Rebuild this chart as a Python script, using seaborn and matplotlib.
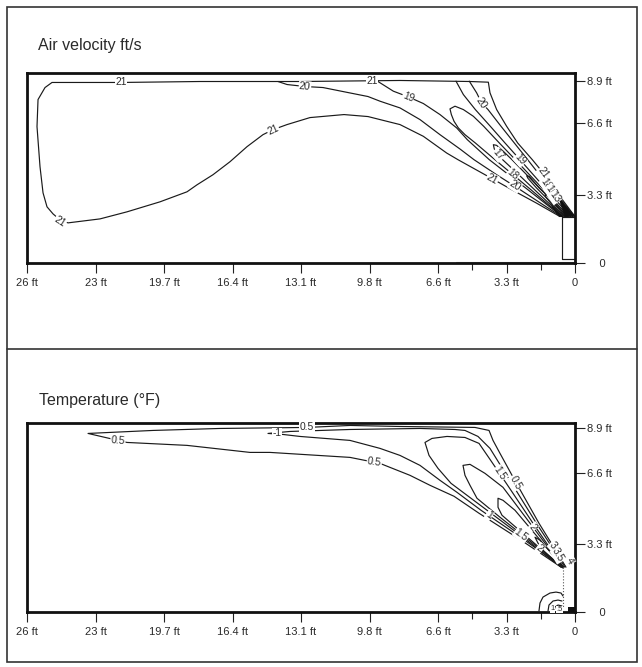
import matplotlib
matplotlib.use("Agg")
import matplotlib.pyplot as plt
from matplotlib import font_manager
from matplotlib.patches import Rectangle, Polygon
from matplotlib.lines import Line2D
import seaborn as sns
import pandas as pd

# ---------------- axis data (metres; labels in ft as in the figure) ----------------
X_TICKS_M = [8, 7, 6, 5, 4, 3, 2, 1, 0]
X_TICK_LABELS = ["26 ft", "23 ft", "19.7 ft", "16.4 ft", "13.1 ft", "9.8 ft", "6.6 ft", "3.3 ft", "0"]
X_MINOR_M = [1.5, 0.5]
VEL_Y_TICKS = [0, 0.99, 2.04, 2.66]
TMP_Y_TICKS = [0, 1.00, 2.03, 2.70]
Y_TICK_LABELS = ["    0", "3.3 ft", "6.6 ft", "8.9 ft"]

# ---------------- Air velocity contours ----------------
VEL_21_X = [0, 0.292, 0.462, 0.623, 0.837, 0.998, 1.144, 1.241, 1.265, 1.533, 2.555, 4.015, 5.474, 6.628,
            7.635, 7.737, 7.839, 7.854, 7.810, 7.766, 7.708, 7.620, 7.518, 7.401, 6.934, 6.540, 6.058, 5.664,
            5.518, 5.285, 5.036, 4.788, 4.555, 4.409, 4.204, 3.869, 3.372, 3.022, 2.847, 2.555, 2.214, 1.873,
            1.708, 1.207, 0.920, 0.560, 0.219]
VEL_21_Y = [0.677, 1.067, 1.311, 1.506, 1.750, 1.993, 2.237, 2.481, 2.636, 2.646, 2.661, 2.646, 2.646, 2.632,
            2.632, 2.558, 2.383, 1.988, 1.404, 1.023, 0.819, 0.716, 0.629, 0.585, 0.643, 0.746, 0.892, 1.038,
            1.140, 1.287, 1.477, 1.696, 1.871, 1.944, 2.018, 2.120, 2.164, 2.135, 2.091, 2.018, 1.847, 1.603,
            1.506, 1.228, 1.067, 0.872, 0.677]
VEL_20A_X = [4.336, 4.204, 3.942, 3.679, 3.314, 3.022, 2.847, 2.555, 2.263, 1.971, 1.679, 1.474, 1.144, 0.798, 0.487, 0.200]
VEL_20A_Y = [2.646, 2.602, 2.573, 2.558, 2.485, 2.427, 2.359, 2.261, 2.091, 1.871, 1.662, 1.506, 1.287, 1.067, 0.863, 0.677]
VEL_20B_X = [1.543, 1.436, 1.363, 1.270, 1.080, 0.886, 0.691, 0.345, 0.034]
VEL_20B_Y = [2.651, 2.481, 2.334, 2.237, 1.993, 1.750, 1.506, 1.067, 0.677]
VEL_19A_X = [2.876, 2.652, 2.433, 2.214, 1.971, 1.727, 1.572, 1.251, 0.686, 0.190]
VEL_19A_Y = [2.646, 2.505, 2.422, 2.325, 2.164, 1.969, 1.798, 1.506, 1.067, 0.677]
VEL_19B_X = [1.737, 1.630, 1.455, 1.236, 1.022, 0.803, 0.414, 0.063]
VEL_19B_Y = [2.651, 2.456, 2.237, 1.993, 1.750, 1.506, 1.067, 0.677]
VEL_18_X = [0.088, 0.457, 0.871, 1.105, 1.333, 1.484, 1.630, 1.752, 1.825, 1.805, 1.766, 1.703, 1.606, 1.455,
            1.168, 0.905, 0.642, 0.414, 0.180]
VEL_18_Y = [0.677, 1.067, 1.506, 1.750, 1.993, 2.139, 2.237, 2.286, 2.247, 2.164, 2.066, 1.969, 1.871, 1.750,
            1.506, 1.287, 1.067, 0.872, 0.677]
VEL_17_X = [0.107, 0.491, 0.920, 1.046, 1.144, 1.192, 1.178, 1.119, 1.056, 0.847, 0.589, 0.414, 0.170]
VEL_17_Y = [0.677, 1.067, 1.506, 1.628, 1.715, 1.725, 1.662, 1.579, 1.506, 1.311, 1.067, 0.902, 0.677]
VEL_16_X = [0.122, 0.316, 0.521, 0.667, 0.706, 0.686, 0.560, 0.341, 0.156]
VEL_16_Y = [0.677, 0.897, 1.092, 1.262, 1.272, 1.233, 1.092, 0.872, 0.677]
VEL_13_X = [0.136, 0.292, 0.414, 0.438, 0.423, 0.316, 0.146]
VEL_13_Y = [0.677, 0.848, 0.994, 0.994, 0.960, 0.824, 0.677]
VEL_DIFFUSER_X = [0, 0.190, 0.190, 0]
VEL_DIFFUSER_Y = [0.673, 0.673, 0.058, 0.058]
VEL_FLOOR_X = [1.74, 0]
VEL_FLOOR_Y = [0.015, 0.015]
VEL_WEDGES = [[(0.243, 0.970), (0.0, 0.677), (0.146, 0.677)],
              [(0.341, 0.824), (0.180, 0.677), (0.229, 0.677)]]
VEL_LABELS = [("21", 6.628, 2.632, 0), ("21", 2.964, 2.655, 0), ("21", 7.518, 0.605, -33),
              ("21", 4.409, 1.944, 25), ("20", 3.942, 2.573, -5), ("19", 2.433, 2.422, -22),
              ("20", 1.363, 2.334, -56), ("19", 0.803, 1.506, -48), ("17", 1.119, 1.579, -50),
              ("18", 0.905, 1.287, -40), ("21", 1.207, 1.228, -29), ("20", 0.876, 1.126, -33),
              ("21", 0.462, 1.311, -53), ("18", 0.423, 1.150, -55), ("16", 0.355, 1.053, -55),
              ("13", 0.297, 0.960, -55)]

# ---------------- Temperature contours ----------------
TMP_05_X = [0.131, 0.526, 0.883, 1.095, 1.197, 1.255, 1.460, 2.555, 3.285, 3.912, 5.182, 6.161, 7.109, 6.672,
            6.540, 5.664, 4.745, 4.453, 3.285, 2.847, 2.409, 2.117, 1.766, 1.401, 0.788, 0.204]
TMP_05_Y = [0.658, 1.301, 1.937, 2.325, 2.515, 2.661, 2.705, 2.719, 2.734, 2.705, 2.690, 2.661, 2.617, 2.515,
            2.485, 2.442, 2.339, 2.339, 2.266, 2.178, 2.003, 1.857, 1.696, 1.447, 1.053, 0.658]
TMP_1_X = [0.146, 0.555, 0.934, 1.241, 1.416, 1.606, 1.752, 2.263, 3.285, 4.161, 4.482, 4.263, 4.015, 3.285,
           2.847, 2.555, 2.263, 1.971, 1.723, 1.372, 0.774, 0.190]
TMP_1_Y = [0.658, 1.287, 1.901, 2.398, 2.573, 2.661, 2.675, 2.690, 2.675, 2.646, 2.617, 2.602, 2.573, 2.515,
           2.398, 2.295, 2.149, 1.930, 1.754, 1.491, 1.082, 0.658]
TMP_15_X = [0.175, 0.584, 0.993, 1.241, 1.401, 1.606, 1.869, 2.088, 2.190, 2.131, 2.000, 1.810, 1.460, 1.110, 0.759, 0.204]
TMP_15_Y = [0.658, 1.257, 1.871, 2.237, 2.471, 2.558, 2.573, 2.544, 2.485, 2.295, 2.105, 1.886, 1.623, 1.360, 1.096, 0.658]
TMP_2_X = [0.175, 0.613, 0.876, 1.051, 1.314, 1.533, 1.635, 1.606, 1.533, 1.431, 1.095, 0.745, 0.190]
TMP_2_Y = [0.658, 1.243, 1.594, 1.827, 2.032, 2.164, 2.149, 2.003, 1.857, 1.667, 1.389, 1.111, 0.658]
TMP_25_X = [0.175, 0.642, 0.876, 1.051, 1.124, 1.124, 1.066, 0.730, 0.190]
TMP_25_Y = [0.658, 1.213, 1.491, 1.637, 1.667, 1.535, 1.418, 1.126, 0.658]
TMP_3_X = [0.161, 0.409, 0.511, 0.584, 0.540, 0.453, 0.175]
TMP_3_Y = [0.658, 0.936, 1.053, 1.096, 1.009, 0.892, 0.643]
TMP_ARC_A_X = [0.526, 0.511, 0.467, 0.365, 0.277, 0.204, 0.175]
TMP_ARC_A_Y = [0.015, 0.132, 0.219, 0.278, 0.292, 0.278, 0.234]
TMP_ARC_B_X = [0.394, 0.380, 0.321, 0.248, 0.190]
TMP_ARC_B_Y = [0.015, 0.102, 0.161, 0.175, 0.161]
TMP_ARC_C_X = [0.307, 0.292, 0.248, 0.190]
TMP_ARC_C_Y = [0.015, 0.073, 0.102, 0.088]
TMP_DIFFUSER_X = [0.175, 0.175]
TMP_DIFFUSER_Y = [0.658, 0.073]
TMP_BLOCK = (0.0, 0.0, 0.10, 0.07)
TMP_LABELS = [("0.5", 3.912, 2.705, 0), ("-1", 4.350, 2.617, 0), ("0.5", 6.672, 2.515, -5),
              ("0.5", 2.930, 2.195, -8), ("1.5", 1.095, 2.032, -56), ("0.5", 0.861, 1.901, -61),
              ("1", 1.255, 1.418, -35), ("1.5", 0.788, 1.126, -37), ("2", 0.613, 1.243, -53),
              ("2", 0.511, 0.936, -38), ("3", 0.321, 0.980, -50), ("3.5", 0.248, 0.833, -60),
              ("4", 0.073, 0.746, -60)]
TMP_SMALL_LABELS = [("1", 0.330, 0.045, 0), (".5", 0.225, 0.035, 0)]

TITLE_TOP = "Air velocity ft/s"
TITLE_BOT = "Temperature (\u00b0F)"

# ---------------- styling ----------------
sns.set_theme(style="white")


def have_font(name):
    try:
        font_manager.findfont(font_manager.FontProperties(family=name), fallback_to_default=False)
        return True
    except Exception:
        return False


NARROW = "Liberation Sans Narrow" if have_font("Liberation Sans Narrow") else "Liberation Sans"
plt.rcParams["font.family"] = ["Liberation Sans", "DejaVu Sans"]

LINE_C = "#1a1a1a"
TEXT_C = "#2a2a2a"

W, H = 642, 667
fig = plt.figure(figsize=(W / 100, H / 100), dpi=100)
fig.patch.set_facecolor("white")


def fx(px):
    return px / W


def fy(py):
    return 1 - py / H


ax_top = fig.add_axes([fx(27), fy(263), fx(575) - fx(27), fy(73) - fy(263)])
ax_bot = fig.add_axes([fx(27), fy(612), fx(575) - fx(27), fy(423) - fy(612)])


def lines_df(named):
    rows = []
    for name, xs, ys in named:
        for i, (x, y) in enumerate(zip(xs, ys)):
            rows.append({"line": name, "order": i, "x": x, "y": y})
    return pd.DataFrame(rows)


def draw_lines(ax, named, lw=0.85, color=LINE_C, **kw):
    df = lines_df(named)
    sns.lineplot(data=df, x="x", y="y", units="line", estimator=None, sort=False,
                 color=color, linewidth=lw, ax=ax, legend=False, **kw)


def style_axes(ax, yticks):
    ax.set_xlim(8.0, 0.0)
    ax.set_ylim(0, 2.77)
    ax.set_xticks(X_TICKS_M)
    ax.set_xticklabels(X_TICK_LABELS)
    ax.set_xticks(X_MINOR_M, minor=True)
    ax.set_yticks(yticks)
    ax.set_yticklabels(Y_TICK_LABELS)
    ax.yaxis.tick_right()
    ax.tick_params(axis="x", which="major", direction="out", length=7, width=0.8, color="#222",
                   pad=3.5, labelsize=8, labelcolor=TEXT_C, bottom=True, top=False)
    ax.tick_params(axis="x", which="minor", direction="out", length=5, width=0.8, color="#222",
                   bottom=True, top=False)
    ax.tick_params(axis="y", which="major", direction="out", length=7, width=0.8, color="#222",
                   pad=1.5, labelsize=8, labelcolor=TEXT_C, right=True, left=False,
                   labelright=True, labelleft=False)
    for lab in ax.get_xticklabels() + ax.get_yticklabels():
        lab.set_fontfamily(NARROW)
    for s in ax.spines.values():
        s.set_visible(True)
        s.set_linewidth(2.0)
        s.set_color("#111")
    ax.set_xlabel("")
    ax.set_ylabel("")
    ax.set_facecolor("white")
    ax.grid(False)


def put_labels(ax, labels, size=7.4):
    for txt, x, y, rot in labels:
        ax.text(x, y, txt, rotation=rot, rotation_mode="anchor", ha="center", va="center",
                fontsize=size, family=NARROW, color=TEXT_C, zorder=6,
                bbox=dict(boxstyle="square,pad=0.05", fc="white", ec="none"))


# ---- top panel ----
draw_lines(ax_top, [
    ("v21", VEL_21_X, VEL_21_Y), ("v20a", VEL_20A_X, VEL_20A_Y), ("v20b", VEL_20B_X, VEL_20B_Y),
    ("v19a", VEL_19A_X, VEL_19A_Y), ("v19b", VEL_19B_X, VEL_19B_Y), ("v18", VEL_18_X, VEL_18_Y),
    ("v17", VEL_17_X, VEL_17_Y), ("v16", VEL_16_X, VEL_16_Y), ("v13", VEL_13_X, VEL_13_Y),
    ("diff", VEL_DIFFUSER_X, VEL_DIFFUSER_Y)])
draw_lines(ax_top, [("floor", VEL_FLOOR_X, VEL_FLOOR_Y)], lw=0.8, color="#999999")
for w in VEL_WEDGES:
    ax_top.add_patch(Polygon(w, closed=True, fc="#111", ec="#111", lw=0.5, zorder=3))
style_axes(ax_top, VEL_Y_TICKS)
put_labels(ax_top, VEL_LABELS)

# ---- bottom panel ----
draw_lines(ax_bot, [
    ("t05", TMP_05_X, TMP_05_Y), ("t1", TMP_1_X, TMP_1_Y), ("t15", TMP_15_X, TMP_15_Y),
    ("t2", TMP_2_X, TMP_2_Y), ("t25", TMP_25_X, TMP_25_Y), ("t3", TMP_3_X, TMP_3_Y),
    ("arcA", TMP_ARC_A_X, TMP_ARC_A_Y), ("arcB", TMP_ARC_B_X, TMP_ARC_B_Y),
    ("arcC", TMP_ARC_C_X, TMP_ARC_C_Y)])
draw_lines(ax_bot, [("diff", TMP_DIFFUSER_X, TMP_DIFFUSER_Y)], lw=0.8, color="#555555", linestyle=":")
ax_bot.add_patch(Rectangle((TMP_BLOCK[0], TMP_BLOCK[1]), TMP_BLOCK[2], TMP_BLOCK[3],
                           fc="#111", ec="none", zorder=4))
style_axes(ax_bot, TMP_Y_TICKS)
put_labels(ax_bot, TMP_LABELS)
put_labels(ax_bot, TMP_SMALL_LABELS, size=5.5)

# ---- frame, divider, titles ----
fig.add_artist(Rectangle((fx(7), fy(662)), fx(637) - fx(7), fy(7) - fy(662), transform=fig.transFigure,
                         fill=False, ec="#333", lw=1.2))
fig.add_artist(Line2D([fx(7), fx(637)], [fy(349), fy(349)], transform=fig.transFigure, color="#333", lw=1.2))
fig.text(fx(38), fy(50), TITLE_TOP, fontsize=11.5, va="baseline", ha="left", color=TEXT_C,
         family=["Liberation Sans", "DejaVu Sans"])
fig.text(fx(39), fy(405), TITLE_BOT, fontsize=11.5, va="baseline", ha="left", color=TEXT_C,
         family=["Liberation Sans", "DejaVu Sans"])

fig.savefig("out.png", dpi=100, facecolor="white")
